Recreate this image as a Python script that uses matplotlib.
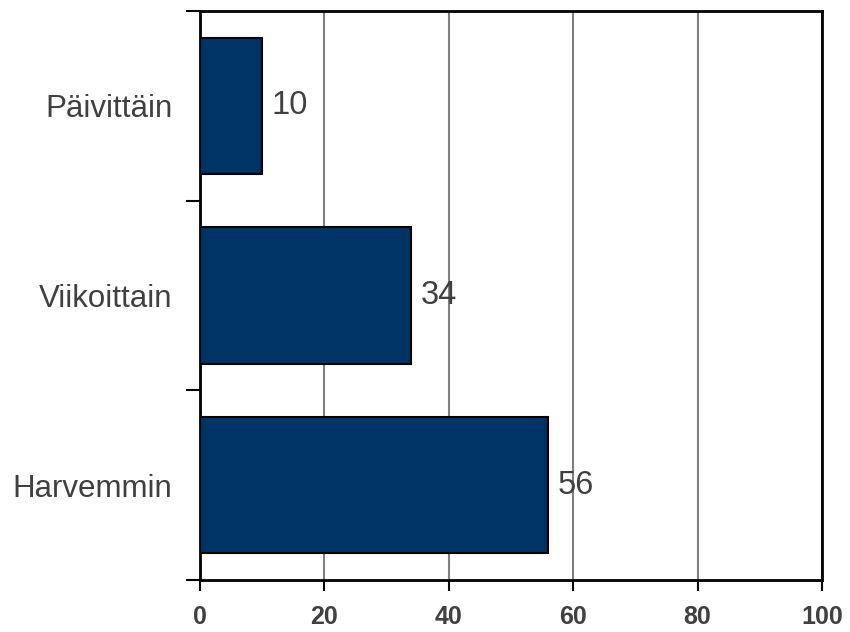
import matplotlib.pyplot as plt
import numpy as np

plt.rcParams['font.family'] = ['Liberation Sans', 'DejaVu Sans']

# Data
categories = ['Päivittäin', 'Viikoittain', 'Harvemmin']
values = [10, 34, 56]
xticks = [0, 20, 40, 60, 80, 100]

fig = plt.figure(figsize=(8.5, 6.32), dpi=100)
ax = fig.add_axes([200 / 850, 1 - 580 / 632, 622 / 850, 569 / 632])

y = np.arange(len(categories))
ax.barh(y, values, height=0.72, color='#003366', edgecolor='black', linewidth=1.5, zorder=3)

for yi, v in zip(y, values):
    ax.text(v + 1.5, yi, str(v), va='center', ha='left', fontsize=23.5, color='#404040', zorder=4)

ax.set_xlim(0, 100)
ax.set_ylim(2.5, -0.5)
ax.set_xticks(xticks)
ax.set_xticklabels([str(t) for t in xticks], fontsize=18, fontweight='bold', color='#404040')
ax.set_yticks([-0.5, 0.5, 1.5, 2.5])
ax.set_yticklabels([])
ax.set_yticks(y, minor=True)
ax.set_yticklabels(categories, minor=True, fontsize=22.5, color='#404040')
ax.tick_params(axis='y', which='minor', length=0, pad=20)
ax.tick_params(axis='y', which='major', length=10, width=1.5, direction='out')
ax.tick_params(axis='x', length=8, width=1.5, direction='out', pad=10)

ax.grid(axis='x', color='#808080', linewidth=1.5, zorder=0)
for s in ax.spines.values():
    s.set_linewidth(2)
    s.set_color('black')

fig.savefig('out.png', dpi=100)
